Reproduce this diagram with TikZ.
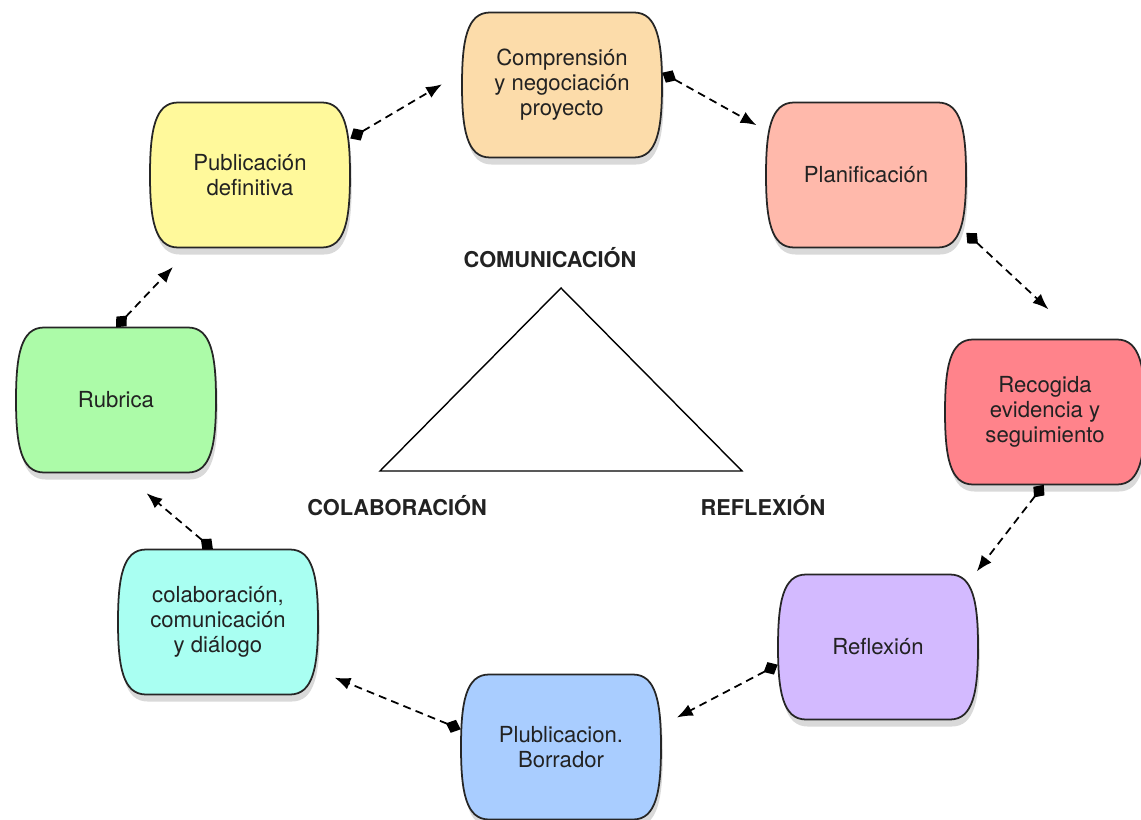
\documentclass[tikz,border=0pt]{standalone}
\usepackage{fontspec}
\setmainfont{TeX Gyre Heros}
\usepackage{tikz}
\usetikzlibrary{arrows.meta, shadows}
\usepackage{xcolor}

\definecolor{compcol}{HTML}{FCDCAA}
\definecolor{plancol}{HTML}{FFB9AB}
\definecolor{recogcol}{HTML}{FF838B}
\definecolor{reflcol}{HTML}{D3BAFF}
\definecolor{borrcol}{HTML}{A9CDFF}
\definecolor{colabcol}{HTML}{A9FFF2}
\definecolor{rubrcol}{HTML}{ACFBA8}
\definecolor{pubcol}{HTML}{FFF99B}
\definecolor{txtcol}{HTML}{222222}

% box with bulging sides, drawn under the node of the same centre
\newcommand{\bulgebox}[2]{%
  \begin{scope}[shift={(#1)}]
    \filldraw[fill=#2, draw=black!85, line width=1pt,
      drop shadow={shadow xshift=1pt, shadow yshift=-4pt, opacity=0.3}]
      (-72,-72.5) -- (72,-72.5)
      .. controls (95,-72.5) and (100,-45) .. (100,0)
      .. controls (100,45) and (95,72.5) .. (72,72.5)
      -- (-72,72.5)
      .. controls (-95,72.5) and (-100,45) .. (-100,0)
      .. controls (-100,-45) and (-95,-72.5) .. (-72,-72.5) -- cycle;
  \end{scope}}

\tikzset{
  stepbox/.style={rectangle, minimum width=4cm, minimum height=2.9cm, inner sep=0pt,
    align=center, text=txtcol, font=\fontsize{12.6}{14.2}\selectfont},
  corner/.style={font=\bfseries\fontsize{12.4}{14}\selectfont, text=txtcol},
  link/.style={line width=1pt, dash pattern=on 4.5pt off 3pt,
    {Diamond[length=9pt, width=8pt]}-{Latex[length=9pt, width=7pt]}}
}

\begin{document}
\begin{tikzpicture}[x=0.02cm, y=-0.02cm]
    \useasboundingbox (0,0) rectangle (1141,820);

    \bulgebox{562,85}{compcol}
    \bulgebox{866,175}{plancol}
    \bulgebox{1045,412}{recogcol}
    \bulgebox{878,647}{reflcol}
    \bulgebox{561,747}{borrcol}
    \bulgebox{218,622}{colabcol}
    \bulgebox{116,400}{rubrcol}
    \bulgebox{250,175}{pubcol}

    \node[stepbox] (comp) at (562,85) {Comprensión\\y negociación\\proyecto};
    \node[stepbox] (plan) at (866,175) {Planificación};
    \node[stepbox] (recog) at (1045,412) {Recogida\\evidencia y\\seguimiento};
    \node[stepbox] (refl) at (878,647) {Reflexión};
    \node[stepbox] (borr) at (561,747) {Plublicacion.\\Borrador};
    \node[stepbox] (colab) at (218,622) {colaboración,\\comunicación\\y diálogo};
    \node[stepbox] (rubr) at (116,400) {Rubrica};
    \node[stepbox] (pubdef) at (250,175) {Publicación\\definitiva};

    \draw[link, shorten >=6pt] (comp.7) -- (plan.156);
    \draw[link, shorten >=25pt] (plan.-30) -- (recog.64);
    \draw[link, shorten >=2pt] (recog.-91) -- (refl.37);
    \draw[link, shorten >=10pt] (refl.190) -- (borr.12);
    \draw[link, shorten >=10pt] (borr.170) -- (colab.-26);
    \draw[link, shorten >=18pt] (colab.94) -- (rubr.-85);
    \draw[link, shorten >=15pt] (rubr.north) -- (pubdef.231);
    \draw[link, shorten >=13pt] (pubdef.20) -- (comp.173);

    % triangle in the middle
    \draw[line width=0.8pt] (380,471) -- (561,288) -- (742,471) -- cycle;
    \node[corner] (comu) at (550,258) {COMUNICACIÓN};
    \node[corner] (cola) at (397,506) {COLABORACIÓN};
    \node[corner] (refx) at (763,506) {REFLEXIÓN};
\end{tikzpicture}
\end{document}
